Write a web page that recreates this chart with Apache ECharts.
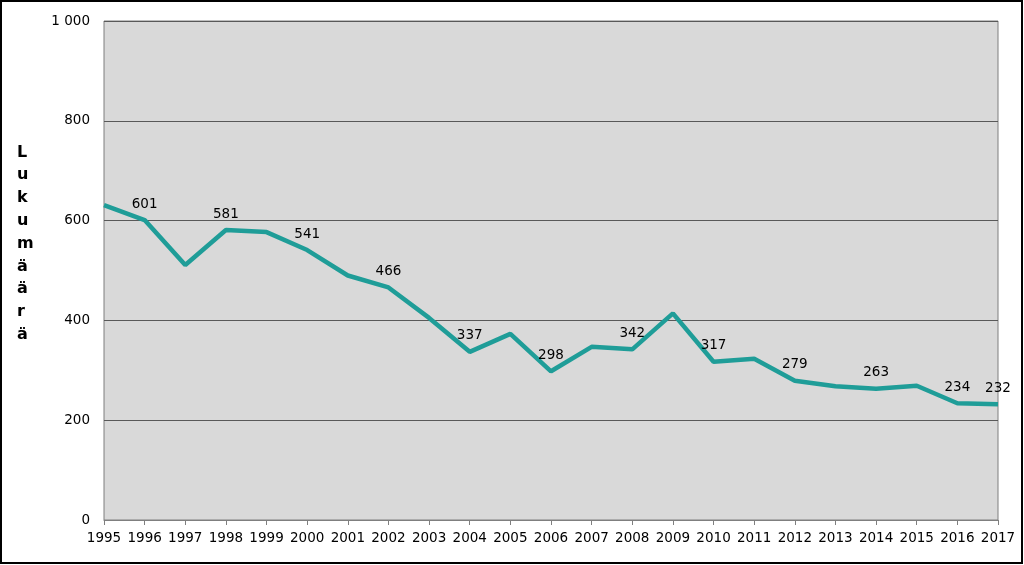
<!DOCTYPE html>
<html><head><meta charset="utf-8">
<script src="https://cdn.jsdelivr.net/npm/echarts@6/dist/echarts.min.js"></script>
<style>html,body{margin:0;padding:0;background:#fff}#c{width:1024px;height:565px}</style>
</head><body><div id="c"></div>
<script>
const years = ['1995','1996','1997','1998','1999','2000','2001','2002','2003','2004','2005','2006','2007','2008','2009','2010','2011','2012','2013','2014','2015','2016','2017'];
const values = [631,601,511,581,577,541,490,466,405,337,373,298,347,342,414,317,323,279,268,263,269,234,232];
const labelledYears = ['1996','1998','2000','2002','2004','2006','2008','2010','2012','2014','2016','2017'];
const yTitle = 'Lukumäärä';

const chart = echarts.init(document.getElementById('c'));
const F = 'DejaVu Sans, Verdana, sans-serif';
const seriesData = values.map((v, i) => ({
  value: v,
  label: {show: labelledYears.includes(years[i])}
}));
chart.setOption({
  animation: false,
  grid: {left: 104, right: 26, top: 21, bottom: 45, show: true, backgroundColor: '#d9d9d9', borderColor: '#7f7f7f', borderWidth: 1},
  xAxis: {
    type: 'category', data: years, boundaryGap: false,
    axisLine: {lineStyle: {color: '#7f7f7f'}},
    axisTick: {show: true, inside: false, length: 5, alignWithLabel: true, lineStyle: {color: '#7f7f7f'}},
    axisLabel: {color: '#000', fontFamily: F, fontSize: 13.5, margin: 11, interval: 0},
    splitLine: {show: false}
  },
  yAxis: {
    type: 'value', min: 0, max: 1000, interval: 200,
    axisLine: {show: false}, axisTick: {show: false},
    axisLabel: {color: '#000', fontFamily: F, fontSize: 13.5, margin: 14,
      formatter: v => v >= 1000 ? String(v).replace(/\B(?=(\d{3})+(?!\d))/g, ' ') : String(v)},
    splitLine: {lineStyle: {color: '#595959', width: 1}}
  },
  series: [{
    type: 'line', data: seriesData, symbol: 'circle', symbolSize: 2, showSymbol: true, showAllSymbol: true,
    itemStyle: {color: 'rgba(31,157,152,0)', borderWidth: 0},
    lineStyle: {color: '#1f9d98', width: 4.5},
    label: {show: true, position: 'top', distance: 8, color: '#000', fontFamily: F, fontSize: 13.5},
    labelLayout: {hideOverlap: false}
  }],
  graphic: [
    {type: 'rect', shape: {x: 1, y: 1, width: 1021, height: 562}, style: {fill: 'none', stroke: '#000', lineWidth: 2}},
    {type: 'text', left: 17, top: 141, style: {text: yTitle.split('').join('\n'), fontFamily: F, fontSize: 16, fontWeight: 'bold', fill: '#000', lineHeight: 22.8, align: 'center'}}
  ]
});
</script></body></html>
